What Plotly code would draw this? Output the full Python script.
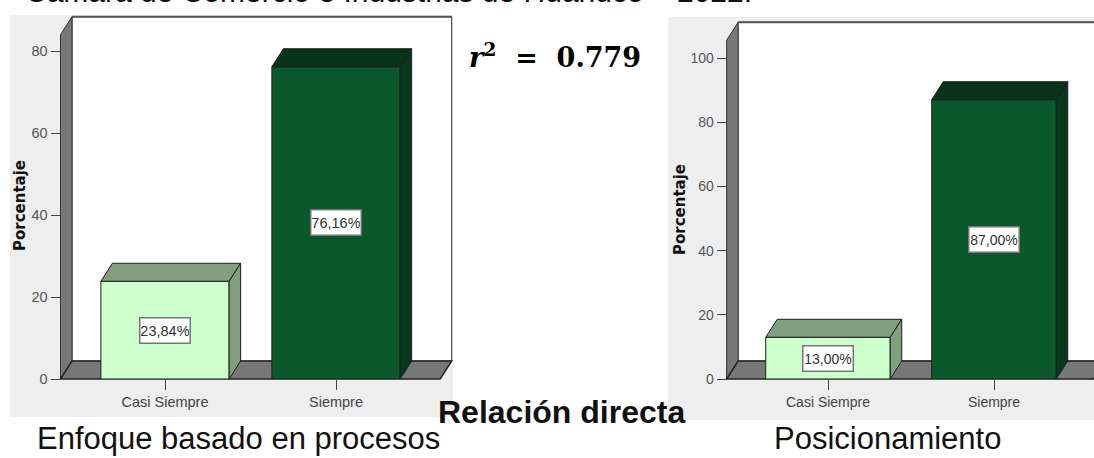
import plotly.graph_objects as go

W, H = 1094, 458

categories = ["Casi Siempre", "Siempre"]
enfoque_values = [23.84, 76.16]
posicion_values = [13.00, 87.00]
enfoque_ticks = [0, 20, 40, 60, 80]
posicion_ticks = [0, 20, 40, 60, 80, 100]

FONT = "Liberation Sans"
LIGHT = ["#ccffcc", "#0b582d"]
TOP = ["#7f9f7f", "#09331b"]
SIDE = ["#7f9f7f", "#07371c"]
EDGE = "#1c1c1c"


def px(x):
    return x / W


def py(y):
    return 1 - y / H


fig = go.Figure()
shapes = []
annots = []


def poly(points, fill, line="#222222", lw=1):
    path = "M " + " L ".join(f"{px(a):.5f},{py(b):.5f}" for a, b in points) + " Z"
    shapes.append(dict(type="path", path=path, xref="paper", yref="paper", fillcolor=fill,
                       line=dict(color=line, width=lw), layer="below"))


def panel(values, ticks, ax, bg, wall_left, wall_right, top, centers, unit_px, tick_font, title_pos):
    """Draw one fake-3D panel. ax is '' or '2'."""
    x0, y0 = wall_left, 379
    dx, dy = 11.5, 18
    bl, br, bt, bb = bg
    shapes.append(dict(type="rect", xref="paper", yref="paper", x0=px(bl), x1=px(br), y0=py(bb), y1=py(bt),
                       fillcolor="#eeeeee", line=dict(width=0), layer="below"))
    # back wall, left wall, floor
    poly([(x0 + dx, top), (wall_right, top), (wall_right, y0 - dy), (x0 + dx, y0 - dy)], "#ffffff", "#333333", 1)
    shapes.append(dict(type="line", xref="paper", yref="paper", x0=px(x0 + dx), x1=px(wall_right),
                       y0=py(top), y1=py(top), line=dict(color="#555555", width=2), layer="below"))
    poly([(x0, y0), (x0 + dx, y0 - dy), (x0 + dx, top), (x0, top + dy)], "#777777", "#333333", 1)
    poly([(x0, y0), (x0 + dx, y0 - dy), (wall_right, y0 - dy), (wall_right - dx, y0)], "#777777", "#222222", 1.5)

    step = centers[1] - centers[0]
    xr = [(x0 - centers[0]) / step, (min(wall_right, W) - centers[0]) / step]
    yr = [0, (y0 - top) / unit_px]
    xa, ya = "x" + ax, "y" + ax
    ddx, ddy = dx / step, dy / unit_px
    half = 0.375

    for i, v in enumerate(values):
        fig.add_trace(go.Scatter(x=[i - half, i - half + ddx, i + half + ddx, i + half, i - half],
                                 y=[v, v + ddy, v + ddy, v, v], fill="toself", mode="lines",
                                 fillcolor=TOP[i], line=dict(color=EDGE, width=1),
                                 xaxis=xa, yaxis=ya, hoverinfo="skip", showlegend=False, cliponaxis=False))
        fig.add_trace(go.Scatter(x=[i + half, i + half + ddx, i + half + ddx, i + half, i + half],
                                 y=[v, v + ddy, ddy, 0, v], fill="toself", mode="lines",
                                 fillcolor=SIDE[i], line=dict(color=EDGE, width=1),
                                 xaxis=xa, yaxis=ya, hoverinfo="skip", showlegend=False, cliponaxis=False))
    fig.add_trace(go.Bar(x=list(range(len(values))), y=values, width=0.75,
                         marker=dict(color=LIGHT, line=dict(color=EDGE, width=1)),
                         xaxis=xa, yaxis=ya, showlegend=False, hoverinfo="skip", cliponaxis=False))
    for i, v in enumerate(values):
        annots.append(dict(x=i, y=v / 2, xref=xa, yref=ya, showarrow=False,
                           text=f"{v:.2f}".replace(".", ",") + "%",
                           font=dict(family=FONT, size=tick_font, color="#333333"),
                           bgcolor="#ffffff", bordercolor="#777777", borderwidth=1.5,
                           width=48, height=23, borderpad=0.5))

    fig.update_layout(**{
        "xaxis" + ax: dict(domain=[px(x0), px(min(wall_right, W))], range=xr, tickmode="array",
                           tickvals=list(range(len(categories))), ticktext=categories,
                           ticks="outside", ticklen=10, tickcolor="#444444", tickwidth=1,
                           tickfont=dict(family=FONT, size=tick_font, color="#444444"),
                           showgrid=False, zeroline=False, showline=False, anchor=ya, automargin=False),
        "yaxis" + ax: dict(domain=[py(y0), py(top)], range=yr, tickmode="array", tickvals=ticks,
                           ticks="outside", ticklen=9, tickcolor="#444444", tickwidth=1,
                           tickfont=dict(family=FONT, size=tick_font, color="#555555"),
                           showgrid=False, zeroline=False, showline=False, anchor=xa, automargin=False),
    })
    annots.append(dict(x=px(title_pos[0]), y=py(title_pos[1]), xref="paper", yref="paper", showarrow=False,
                       text="<b>Porcentaje</b>", textangle=-90, xanchor="center", yanchor="middle",
                       font=dict(family="DejaVu Sans", size=15, color="#111111")))


panel(enfoque_values, enfoque_ticks, "", (10, 453, 15, 417), 60.5, 451.7, 16.7, (165, 336), 4.1, 14.5, (20, 206))
panel(posicion_values, posicion_ticks, "2", (668, 1094, 17, 420), 726.6, 1105, 22.3, (828, 994), 3.21, 14, (680, 210))


def label(text, x, y, size, family=FONT, color="#111111"):
    annots.append(dict(x=px(x), y=py(y), xref="paper", yref="paper", showarrow=False, text=text,
                       xanchor="center", yanchor="middle",
                       font=dict(family=family, size=size, color=color)))


label("Cámara de Comercio e Industrias de Huánuco – 2022.", 388, -8, 30)
label("<b>Relación directa</b>", 561, 412, 32)
label("Enfoque basado en procesos", 239, 438.5, 31)
label("Posicionamiento", 887, 438.5, 31)
label("<b><i>r</i><sup>2</sup>&nbsp;&nbsp;=&nbsp;&nbsp;0.779</b>", 555, 56, 27, "DejaVu Serif", "#000000")

fig.update_layout(width=W, height=H, margin=dict(l=0, r=0, t=0, b=0, pad=0), autosize=False,
                  paper_bgcolor="#ffffff", plot_bgcolor="rgba(0,0,0,0)", barmode="overlay",
                  shapes=shapes, annotations=annots, showlegend=False)

fig.write_html("out.html", config=dict(displayModeBar=False),
               post_script="document.body.style.margin='0';document.body.style.overflow='hidden';")
